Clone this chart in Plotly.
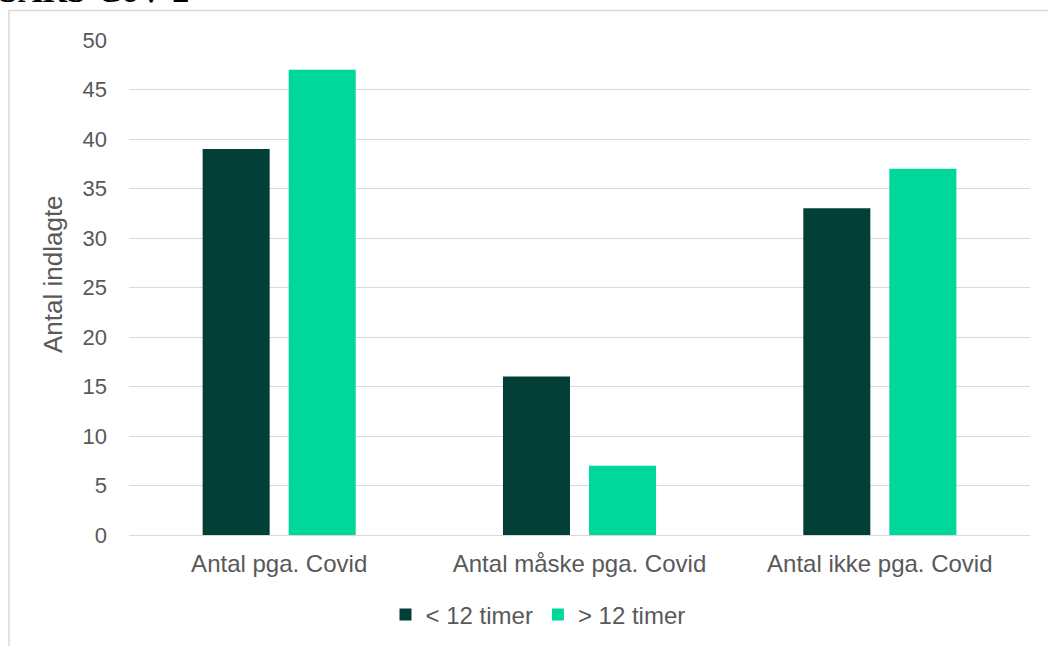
import plotly.graph_objects as go

# Indlagte med SARS-CoV-2 fordelt på årsag og tid
categories = ["Antal pga. Covid", "Antal måske pga. Covid", "Antal ikke pga. Covid"]
under_12 = [39, 16, 33]
over_12 = [47, 7, 37]
series_names = ["< 12 timer", "> 12 timer"]
y_ticks = [0, 5, 10, 15, 20, 25, 30, 35, 40, 45, 50]

DARK = "#023F36"
LIGHT = "#00D89B"
GRID = "#D9D9D9"
TEXT = "#595959"
FONT = "Liberation Sans, Arial, sans-serif"

fig = go.Figure()
fig.add_trace(go.Bar(x=categories, y=under_12, name=series_names[0],
                     marker=dict(color=DARK, line=dict(width=0))))
fig.add_trace(go.Bar(x=categories, y=over_12, name=series_names[1],
                     marker=dict(color=LIGHT, line=dict(width=0))))

W, H = 1048, 646
L, R, T, B = 129, 18, 40, 111
pw, ph = W - L - R, H - T - B

def px_x(p):
    return (p - L) / pw

def px_y(p):
    return (H - B - p) / ph

fig.update_layout(
    width=W, height=H,
    margin=dict(l=L, r=R, t=T, b=B, pad=0, autoexpand=False),
    paper_bgcolor="white", plot_bgcolor="white",
    barmode="group", bargap=0.427, bargroupgap=0.221,
    font=dict(family=FONT, size=22, color=TEXT),
    showlegend=True,
    legend=dict(orientation="h", x=px_x(538), xanchor="center",
                y=px_y(615), yanchor="middle",
                font=dict(size=24, color=TEXT),
                itemwidth=30, traceorder="normal", itemclick=False),
    xaxis=dict(showgrid=False, showline=False, ticks="", automargin=False,
               tickfont=dict(size=24, color=TEXT), ticklabelstandoff=12),
    yaxis=dict(range=[0, 50], tickvals=y_ticks, showgrid=True, automargin=False,
               gridcolor=GRID, gridwidth=1, zeroline=True,
               zerolinecolor=GRID, zerolinewidth=1, showline=False,
               ticks="", tickfont=dict(size=22, color=TEXT),
               ticklabelstandoff=21),
    shapes=[dict(type="rect", xref="paper", yref="paper",
                 x0=px_x(9), x1=px_x(1100), y0=px_y(700), y1=px_y(10.5),
                 line=dict(color=GRID, width=1.5), fillcolor="rgba(0,0,0,0)",
                 layer="below")],
    annotations=[
        dict(text="<b>SARS-CoV-2</b>", xref="paper", yref="paper",
             x=px_x(-3), y=px_y(11), xanchor="left", yanchor="bottom",
             showarrow=False,
             font=dict(family="Liberation Serif, Times New Roman, serif",
                       size=34, color="black")),
        dict(text="Antal indlagte", xref="paper", yref="paper",
             x=px_x(53), y=px_y(274), xanchor="center", yanchor="middle",
             textangle=-90, showarrow=False,
             font=dict(size=26, color=TEXT)),
    ],
)

fig.write_html("out.html")
